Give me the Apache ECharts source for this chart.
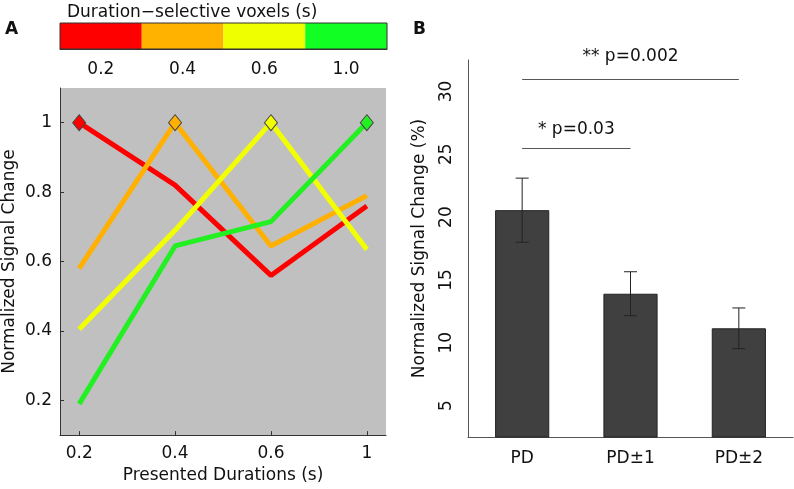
<!DOCTYPE html>
<html>
<head>
<meta charset="utf-8">
<script src="https://cdn.jsdelivr.net/npm/echarts@6/dist/echarts.min.js"></script>
<style>
  html, body { margin: 0; padding: 0; background: #fff; }
  #chart { width: 794px; height: 489px; }
</style>
</head>
<body>
<div id="chart"></div>
<script>
// colour bar
const cbLabels = ['0.2', '0.4', '0.6', '1.0'];
const cbColors = ['#ff0000', '#ffb300', '#f0ff00', '#11ff22'];

// panel A
const durLabels = ['0.2', '0.4', '0.6', '1'];
const redVals = [1, 0.82, 0.56, 0.76];
const orangeVals = [0.58, 1, 0.645, 0.79];
const yellowVals = [0.405, 0.69, 1, 0.635];
const greenVals = [0.19, 0.645, 0.715, 1];
const lineColors = ['#ff0000', '#ffb000', '#f2ff00', '#22f022'];
const aTicks = [0.2, 0.4, 0.6, 0.8, 1];

// panel B
const groups = ['PD', 'PD±1', 'PD±2'];
const means = [20.55, 13.9, 11.15];
const errs = [2.55, 1.75, 1.62];
const bTicks = [5, 10, 15, 20, 25, 30];

const font = 'DejaVu Sans';
const chart = echarts.init(document.getElementById('chart'));

const lineSeries = [redVals, orangeVals, yellowVals, greenVals].map((vals, s) => ({
  type: 'line',
  xAxisIndex: 1,
  yAxisIndex: 1,
  symbol: 'none',
  lineStyle: { width: 5, color: lineColors[s] },
  itemStyle: { color: lineColors[s], borderColor: '#444', borderWidth: 1 },
  data: vals.map((v, i) => (i === s
    ? { value: [i + 1, v], symbol: 'diamond', symbolSize: [13, 16] }
    : { value: [i + 1, v] })),
  silent: true
}));

const option = {
  animation: false,
  textStyle: { fontFamily: font },
  title: [
    { text: 'Duration−selective voxels (s)', left: 62, top: -1,
      textStyle: { fontFamily: font, fontSize: 17, fontWeight: 'normal', color: '#111' } },
    { text: 'A', left: 0, top: 16,
      textStyle: { fontFamily: font, fontSize: 17, fontWeight: 'bold', color: '#111' } },
    { text: 'B', left: 408, top: 16,
      textStyle: { fontFamily: font, fontSize: 17, fontWeight: 'bold', color: '#111' } }
  ],
  grid: [
    { left: 60, top: 23, width: 327, height: 26, show: true, z: 10,
      backgroundColor: 'rgba(0,0,0,0)', borderColor: '#333', borderWidth: 1 },
    { left: 60, top: 88, width: 326, height: 350, show: true,
      backgroundColor: '#c0c0c0', borderWidth: 0 },
    { left: 468, top: 60, width: 325, height: 377 }
  ],
  xAxis: [
    {
      type: 'category', gridIndex: 0, data: cbLabels, z: 10,
      axisLine: { lineStyle: { color: '#333' } },
      axisTick: { inside: true, alignWithLabel: true, length: 3, lineStyle: { color: '#333' } },
      axisLabel: { margin: 12, fontSize: 17, color: '#111', fontFamily: font }
    },
    {
      type: 'value', gridIndex: 1, min: 0.8, max: 4.2,
      splitLine: { show: false },
      axisLine: { show: true, lineStyle: { color: '#333' } },
      axisTick: { show: true, inside: true, length: 4, customValues: [1, 2, 3, 4], lineStyle: { color: '#333' } },
      axisLabel: { margin: 10, fontSize: 17, color: '#111', fontFamily: font,
        customValues: [1, 2, 3, 4], formatter: v => durLabels[Math.round(v) - 1] },
      name: 'Presented Durations (s)', nameLocation: 'middle', nameGap: 31,
      nameTextStyle: { fontSize: 17, color: '#111', fontFamily: font }
    },
    {
      type: 'category', gridIndex: 2, data: groups,
      axisLine: { lineStyle: { color: '#555' } },
      axisTick: { alignWithLabel: true, length: 4, lineStyle: { color: '#555' } },
      axisLabel: { margin: 13, fontSize: 17, color: '#111', fontFamily: font }
    }
  ],
  yAxis: [
    { type: 'value', gridIndex: 0, min: 0, max: 1, show: false },
    {
      type: 'value', gridIndex: 1, min: 0.1, max: 1.1,
      splitLine: { show: false },
      axisLine: { show: true, lineStyle: { color: '#333' } },
      axisTick: { show: true, inside: true, length: 4, customValues: aTicks, lineStyle: { color: '#333' } },
      axisLabel: { margin: 8, fontSize: 17, color: '#111', fontFamily: font,
        customValues: aTicks, formatter: v => String(Number(v.toFixed(1))) },
      name: 'Normalized Signal Change', nameLocation: 'middle', nameGap: 42,
      nameTextStyle: { fontSize: 17, color: '#111', fontFamily: font }
    },
    {
      type: 'value', gridIndex: 2, min: 2.5, max: 32.5,
      splitLine: { show: false },
      axisLine: { show: true, lineStyle: { color: '#555' } },
      axisTick: { show: false },
      axisLabel: { margin: 13, rotate: 90, fontSize: 17, color: '#111', fontFamily: font,
        customValues: bTicks },
      name: 'Normalized Signal Change (%)', nameLocation: 'middle', nameGap: 40,
      nameTextStyle: { fontSize: 17, color: '#111', fontFamily: font }
    }
  ],
  series: [
    {
      type: 'bar', xAxisIndex: 0, yAxisIndex: 0, silent: true,
      barWidth: '100%',
      data: cbColors.map(c => ({ value: 1, itemStyle: { color: c } }))
    },
    ...lineSeries,
    {
      type: 'bar', xAxisIndex: 2, yAxisIndex: 2, silent: true,
      barWidth: '50%',
      itemStyle: { color: '#404040', borderColor: '#222', borderWidth: 1 },
      data: means,
      markLine: {
        silent: true,
        symbol: ['none', 'none'],
        lineStyle: { color: '#555', width: 1, type: 'solid' },
        label: { show: true, position: 'insideMiddleTop', distance: 12,
          fontSize: 17, color: '#111', fontFamily: font },
        data: [
          [{ coord: [0, 31.0], label: { formatter: '** p=0.002', distance: 14 } }, { coord: [2, 31.0] }],
          [{ coord: [0, 25.45], label: { formatter: '* p=0.03', distance: 11 } }, { coord: [1, 25.45] }]
        ]
      }
    },
    {
      type: 'custom', xAxisIndex: 2, yAxisIndex: 2, silent: true, z: 3,
      data: means.map((m, i) => [i, m - errs[i], m + errs[i]]),
      encode: { x: 0, y: [1, 2] },
      renderItem: (params, api) => {
        const lo = api.coord([api.value(0), api.value(1)]);
        const hi = api.coord([api.value(0), api.value(2)]);
        const cap = 6.5;
        const st = { stroke: '#222', lineWidth: 1 };
        return {
          type: 'group',
          children: [
            { type: 'line', shape: { x1: lo[0], y1: lo[1], x2: hi[0], y2: hi[1] }, style: st },
            { type: 'line', shape: { x1: hi[0] - cap, y1: hi[1], x2: hi[0] + cap, y2: hi[1] }, style: st },
            { type: 'line', shape: { x1: lo[0] - cap, y1: lo[1], x2: lo[0] + cap, y2: lo[1] }, style: st }
          ]
        };
      }
    }
  ]
};

chart.setOption(option);
</script>
</body>
</html>
